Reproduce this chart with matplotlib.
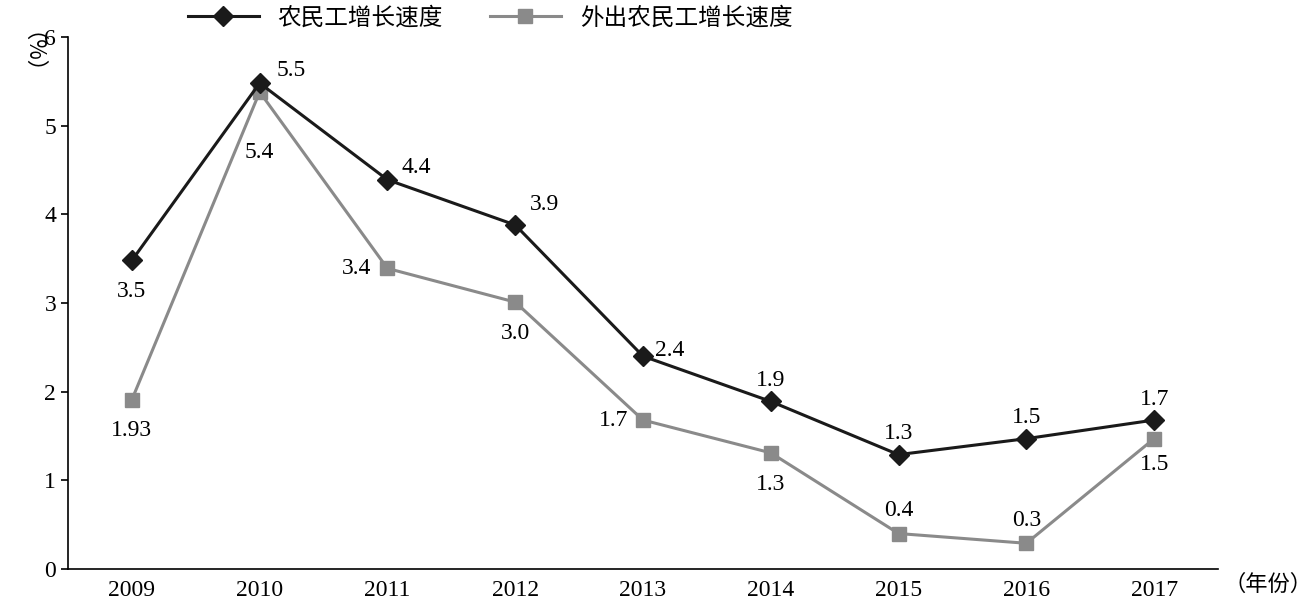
import matplotlib
matplotlib.use("Agg")
import matplotlib.pyplot as plt

years = ["2009","2010","2011","2012","2013","2014","2015","2016","2017"]
total = [3.5,5.5,4.4,3.9,2.4,1.9,1.3,1.5,1.7]
total_pos = [3.48,5.48,4.39,3.88,2.4,1.89,1.29,1.47,1.68]
outside = [1.93,5.4,3.4,3.0,1.7,1.3,0.4,0.3,1.5]
outside_pos = [1.91,5.38,3.39,3.01,1.68,1.31,0.4,0.29,1.47]
total_lbl = ["3.5","5.5","4.4","3.9","2.4","1.9","1.3","1.5","1.7"]
outside_lbl = ["1.93","5.4","3.4","3.0","1.7","1.3","0.4","0.3","1.5"]

serif = "Liberation Serif"
cjk = "Noto Sans CJK SC"
fig = plt.figure(figsize=(13.14,6.06), dpi=100)
ax = fig.add_axes([68/1314, 1-569/606, 1150/1314, 532/606])
x = range(len(years))
ax.plot(x, outside_pos, color="#8a8a8a", lw=2.2, marker="s", ms=10, mfc="#8a8a8a", mec="#8a8a8a", label="外出农民工增长速度")
ax.plot(x, total_pos, color="#1a1a1a", lw=2.2, marker="D", ms=10, label="农民工增长速度")
off_t = [(0,-30),(30,12),(28,12),(28,20),(26,5),(0,20),(0,20),(0,20),(0,20)]
off_o = [(0,-30),(0,-58),(-30,0),(0,-30),(-28,0),(0,-30),(0,22),(0,22),(0,-25)]
for i in x:
    ax.annotate(total_lbl[i], (i,total_pos[i]), xytext=off_t[i], textcoords="offset points", ha="center", va="center", fontsize=17, family=serif) if False else None
    ax.annotate(total_lbl[i], (i,total_pos[i]), xytext=(off_t[i][0]*0.75,off_t[i][1]*0.75), textcoords="offset pixels" if False else "offset points", ha="center", va="center", fontsize=17, family=serif)
    ax.annotate(outside_lbl[i], (i,outside_pos[i]), xytext=(off_o[i][0]*0.75,off_o[i][1]*0.75), textcoords="offset points", ha="center", va="center", fontsize=17, family=serif)
ax.set_xlim(-0.5, 8.5)
ax.set_ylim(0, 6)
ax.set_xticks(list(x))
ax.set_xticklabels(years, family=serif, fontsize=17)
ax.set_yticks(range(7))
ax.set_yticklabels([str(v) for v in range(7)], family=serif, fontsize=17)
for s in ["top","right"]:
    ax.spines[s].set_visible(False)
ax.tick_params(direction="out", length=5, width=1.2)
ax.tick_params(axis="x", length=0, pad=8)
for s in ["left","bottom"]:
    ax.spines[s].set_linewidth(1.2)
h, l = ax.get_legend_handles_labels()
fig.legend(h[::-1], l[::-1], loc="center", bbox_to_anchor=(490/1314, 1-18/606), ncol=2, frameon=False,
           prop={"family": cjk, "size": 17}, handlelength=3, columnspacing=2)
fig.text(20/1314, 1-65/606, "（%）", rotation=270, ha="center", va="center", family=cjk, fontsize=16)
fig.text(1268/1314, 1-584/606, "（年份）", ha="center", va="center", family=cjk, fontsize=16)
fig.savefig("out.png", dpi=100)
